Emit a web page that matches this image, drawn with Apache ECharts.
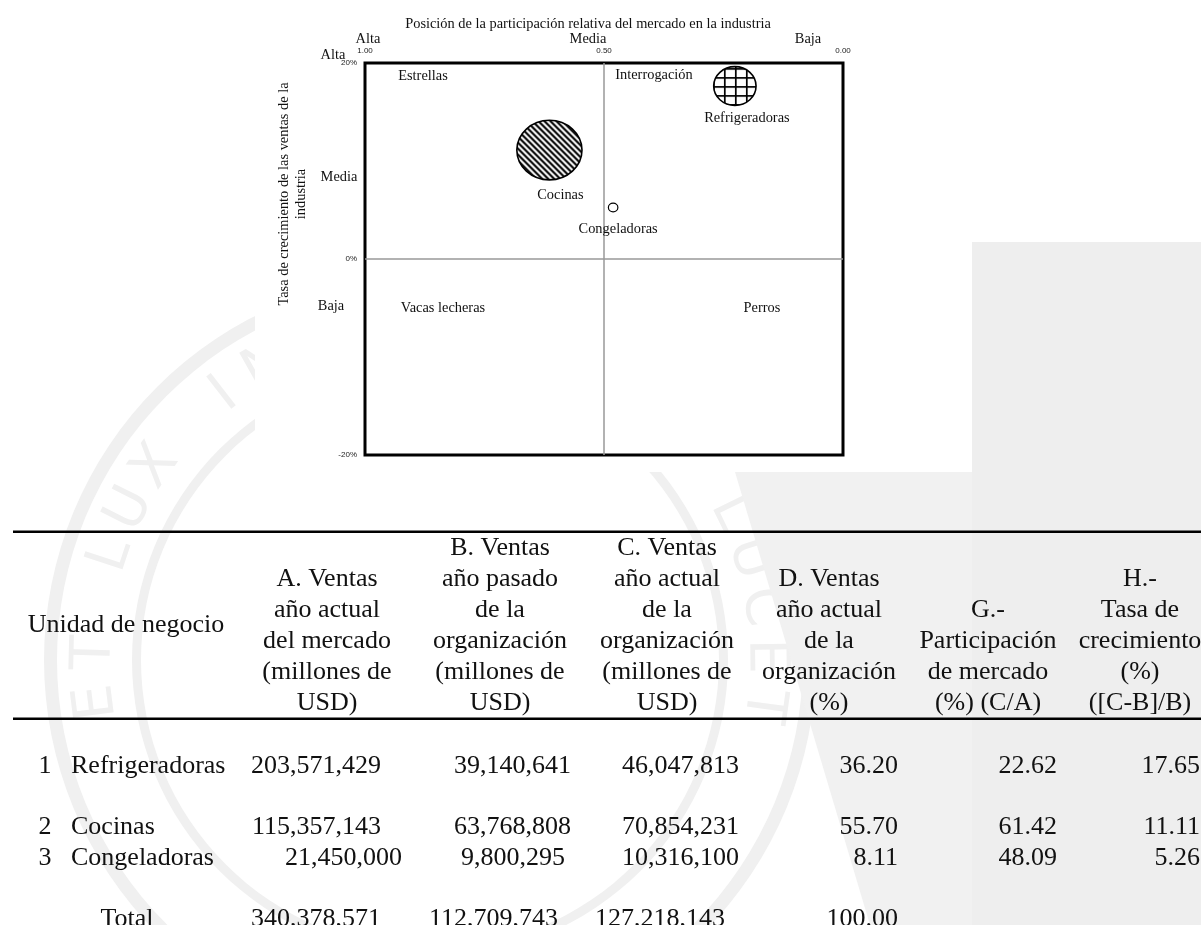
<!DOCTYPE html>
<html>
<head>
<meta charset="utf-8">
<script src="https://cdn.jsdelivr.net/npm/echarts@6/dist/echarts.min.js"></script>
<style>
  html, body { margin: 0; padding: 0; background: #fff; }
  #chart { width: 1201px; height: 925px; }
</style>
</head>
<body>
<div id="chart"></div>
<script>
// ---- Data: business units of the organization ----
const units = ['Refrigeradoras', 'Cocinas', 'Congeladoras'];
const marketSales = [203571429, 115357143, 21450000];      // A
const lastYearSales = [39140641, 63768808, 9800295];        // B
const currentYearSales = [46047813, 70854231, 10316100];    // C
const shareOfSales = [36.20, 55.70, 8.11];                  // D (%)
const marketShare = [22.62, 61.42, 48.09];                  // G (%)
const growthRate = [17.65, 11.11, 5.26];                    // H (%)
const totals = [340378571, 112709743, 127218143, 100.00];

// Axis ticks and level names
const shareTicks = [0, 0.5, 1];
const growthTicks = [-20, 0, 20];
const shareLevels = ['Alta', 'Media', 'Baja'];
const growthLevels = ['Alta', 'Media', 'Baja'];
const quadrants = ['Estrellas', 'Interrogación', 'Vacas lecheras', 'Perros'];

// Table headers
const headUnit = 'Unidad de negocio';
const headCols = [
  ['A. Ventas', 'año actual', 'del mercado', '(millones de', 'USD)'],
  ['B. Ventas', 'año pasado', 'de la', 'organización', '(millones de', 'USD)'],
  ['C. Ventas', 'año actual', 'de la', 'organización', '(millones de', 'USD)'],
  ['D. Ventas', 'año actual', 'de la', 'organización', '(%)'],
  ['G.-', 'Participación', 'de mercado', '(%) (C/A)'],
  ['H.-', 'Tasa de', 'crecimiento', '(%)', '([C-B]/B)']
];

// ---- Fill patterns for the bubbles ----
function stripeTile() {
  const s = 6, c = document.createElement('canvas');
  c.width = s; c.height = s;
  const g = c.getContext('2d');
  g.fillStyle = '#fff'; g.fillRect(0, 0, s, s);
  g.strokeStyle = '#000'; g.lineWidth = 2.1;
  g.beginPath();
  g.moveTo(-1, -1); g.lineTo(s + 1, s + 1);
  g.moveTo(-1, s - 1); g.lineTo(1, s + 1);
  g.moveTo(s - 1, -1); g.lineTo(s + 1, 1);
  g.stroke();
  return c;
}
function gridTile() {
  const w = 11, h = 9, c = document.createElement('canvas');
  c.width = w; c.height = h;
  const g = c.getContext('2d');
  g.fillStyle = '#fff'; g.fillRect(0, 0, w, h);
  g.fillStyle = '#000';
  g.fillRect(0, 0, w, 1.7);
  g.fillRect(0, 0, 1.7, h);
  return c;
}
const tiles = [gridTile(), stripeTile(), null];
// bubble outline width and label placement under each bubble
const outlineWidths = [1.6, 1.6, 1.2];
const labelOffsets = [12, 11, 5];
const labelGaps = [6, 8, 10];
// bubble width / height per point of share of sales
const bubbleScale = [1.17, 1.07];

const fmt = n => n.toLocaleString('en-US');
const fmt2 = n => n.toFixed(2);

// ---- Layout constants ----
const PLOT = { left: 365, top: 63, width: 478, height: 392 };
const chartFont = '14.4px "Liberation Serif", "Times New Roman", serif';
const tableFont = '26px "Liberation Serif", "Times New Roman", serif';
const ink = '#111';
const shade = '#f0f0f0';

function txt(text, x, y, font, align, vAlign, extra) {
  return Object.assign({
    type: 'text', x: x, y: y, silent: true,
    style: {
      text: text, font: font, fill: ink,
      align: align || 'center', verticalAlign: vAlign || 'middle',
      textAlign: align || 'center', textVerticalAlign: vAlign || 'middle'
    }
  }, extra || {});
}

const graphics = [];

// faint page seal behind the content
const sealCx = 430, sealCy = 660;
graphics.push({ type: 'ring', silent: true, z: -10, shape: { cx: sealCx, cy: sealCy, r: 386, r0: 373 }, style: { fill: shade } });
graphics.push({ type: 'ring', silent: true, z: -10, shape: { cx: sealCx, cy: sealCy, r: 298, r0: 289 }, style: { fill: shade } });
const motto = 'ET LUX IN TENEBRIS LUCET';
const mottoStart = Math.PI * 0.96, mottoStep = 0.148, mottoR = 335;
motto.split('').forEach((ch, k) => {
  const a = mottoStart + k * mottoStep;
  graphics.push({
    type: 'text', silent: true, z: -10,
    x: sealCx + mottoR * Math.cos(a), y: sealCy + mottoR * Math.sin(a),
    rotation: -(a + Math.PI / 2),
    style: { text: ch, font: '56px "DejaVu Sans", sans-serif', fill: shade, align: 'center', verticalAlign: 'middle', textAlign: 'center', textVerticalAlign: 'middle' }
  });
});
// large shaded blocks on the right side of the page
graphics.push({ type: 'polygon', silent: true, z: -10, shape: { points: [[972, 242], [1201, 242], [1201, 925], [972, 925]] }, style: { fill: '#eeeeee' } });
graphics.push({ type: 'polygon', silent: true, z: -10, shape: { points: [[735, 472], [972, 472], [972, 925], [870, 925]] }, style: { fill: '#f1f1f1' } });
// white backing of the matrix figure
graphics.push({ type: 'rect', silent: true, z: -5, shape: { x: 255, y: 0, width: 717, height: 472 }, style: { fill: '#fff' } });

// chart annotations
graphics.push(txt('Posición de la participación relativa del mercado en la industria', 588, 24, chartFont));
const topLevelX = [368, 588, 808];
shareLevels.forEach((t, i) => graphics.push(txt(t, topLevelX[i], 39, chartFont)));
const sideLevelY = [55, 177, 306];
const sideLevelX = [333, 339, 331];
growthLevels.forEach((t, i) => graphics.push(txt(t, sideLevelX[i], sideLevelY[i], chartFont)));
graphics.push(txt('Tasa de crecimiento de las ventas de la', 284, 194, chartFont, 'center', 'middle', { rotation: Math.PI / 2 }));
graphics.push(txt('industria', 301, 194, chartFont, 'center', 'middle', { rotation: Math.PI / 2 }));
const quadPos = [[423, 76], [654, 75], [443, 308], [762, 308]];
quadrants.forEach((t, i) => graphics.push(txt(t, quadPos[i][0], quadPos[i][1], chartFont)));

// table rules
graphics.push({ type: 'rect', silent: true, shape: { x: 13, y: 530.5, width: 1190, height: 2.4 }, style: { fill: '#000' } });
graphics.push({ type: 'rect', silent: true, shape: { x: 13, y: 717.5, width: 1190, height: 2.4 }, style: { fill: '#000' } });

// table header
const headLineY = [548, 579, 610, 641, 672, 703];
const headColX = [327, 500, 667, 829, 988, 1140];
graphics.push(txt(headUnit, 126, 625, tableFont));
headCols.forEach((lines, ci) => {
  const start = headLineY.length - lines.length;
  lines.forEach((t, li) => graphics.push(txt(t, headColX[ci], headLineY[start + li], tableFont)));
});

// table body
const rowY = [766, 827, 858];
const totalY = 919;
const colRight = [381, 571, 739, 898, 1057, 1200];
const cellShift = { '0-2': 21, '1-2': -6 };   // column-row nudges in the body
units.forEach((u, r) => {
  graphics.push(txt(String(r + 1), 45, rowY[r], tableFont));
  graphics.push(txt(u, 71, rowY[r], tableFont, 'left'));
  const cells = [fmt(marketSales[r]), fmt(lastYearSales[r]), fmt(currentYearSales[r]),
                 fmt2(shareOfSales[r]), fmt2(marketShare[r]), fmt2(growthRate[r])];
  cells.forEach((c, ci) => {
    const dx = cellShift[ci + '-' + r] || 0;
    graphics.push(txt(c, colRight[ci] + dx, rowY[r], tableFont, 'right'));
  });
});
graphics.push(txt('Total', 127, totalY, tableFont));
const totalRight = [381, 558, 725, 898];
totals.forEach((v, ci) => {
  const s = ci < 3 ? fmt(v) : fmt2(v);
  graphics.push(txt(s, totalRight[ci], totalY, tableFont, 'right'));
});

// Bubbles: position from market share / growth, size from share of sales
function renderBubble(params, api) {
  const i = params.dataIndex;
  const p = api.coord([api.value(0), api.value(1)]);
  const d = api.value(2);
  const rx = d * bubbleScale[0] / 2, ry = d * bubbleScale[1] / 2;
  const fill = tiles[i] ? { image: tiles[i], repeat: 'repeat', x: p[0], y: p[1] } : '#fff';
  return {
    type: 'group',
    children: [
      {
        type: 'ellipse',
        shape: { cx: p[0], cy: p[1], rx: rx, ry: ry },
        style: { fill: fill, stroke: '#000', lineWidth: outlineWidths[i] }
      },
      {
        type: 'text',
        x: p[0] + labelOffsets[i], y: p[1] + ry + labelGaps[i],
        style: {
          text: units[i], font: chartFont, fill: ink,
          align: 'center', verticalAlign: 'top', textAlign: 'center', textVerticalAlign: 'top'
        }
      }
    ]
  };
}

const chart = echarts.init(document.getElementById('chart'), null, { renderer: 'canvas' });
chart.setOption({
  backgroundColor: '#fff',
  animation: false,
  grid: {
    left: PLOT.left, top: PLOT.top, width: PLOT.width, height: PLOT.height,
    show: true, borderColor: '#000', borderWidth: 3, backgroundColor: 'transparent'
  },
  xAxis: {
    type: 'value', position: 'top', inverse: true,
    min: shareTicks[0], max: shareTicks[shareTicks.length - 1], interval: 0.5,
    axisLine: { show: false }, axisTick: { show: false }, splitLine: { show: false },
    axisLabel: { fontSize: 8, color: '#222', margin: 8, fontFamily: 'Liberation Sans', formatter: v => v.toFixed(2) }
  },
  yAxis: {
    type: 'value',
    min: growthTicks[0], max: growthTicks[growthTicks.length - 1], interval: 20,
    axisLine: { show: false }, axisTick: { show: false }, splitLine: { show: false },
    axisLabel: { fontSize: 8, color: '#222', margin: 8, fontFamily: 'Liberation Sans', formatter: v => v + '%' }
  },
  series: [
    {
      type: 'line', data: [], silent: true,
      markLine: {
        silent: true, symbol: 'none', animation: false,
        label: { show: false },
        lineStyle: { color: '#999', width: 1.5, type: 'solid' },
        data: [{ xAxis: shareTicks[1] }, { yAxis: growthTicks[1] }]
      }
    },
    {
      type: 'custom',
      renderItem: renderBubble,
      data: units.map((u, i) => [marketShare[i] / 100, growthRate[i], shareOfSales[i]]),
      z: 5
    }
  ],
  graphic: graphics
});
</script>
</body>
</html>
